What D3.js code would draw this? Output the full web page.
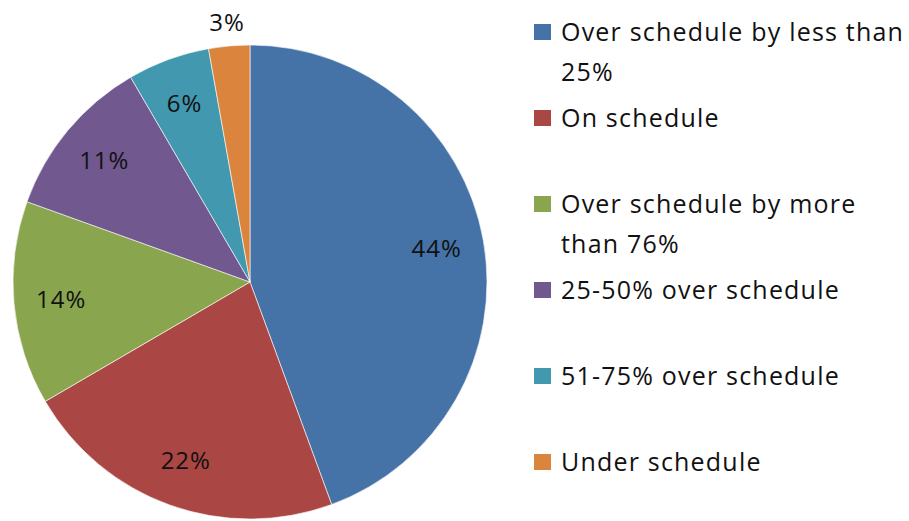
<!DOCTYPE html>
<html>
<head>
<meta charset="utf-8">
<script src="https://cdn.jsdelivr.net/npm/d3@7"></script>
<style>
  body { margin: 0; background: #fff; }
  text { font-family: "Open Sans", Lato, sans-serif; fill: #111; }
</style>
</head>
<body>
<div id="chart"></div>
<script>
const WIDTH = 909
const HEIGHT = 521

// slice shares (%)
const categories = [
    'Over schedule by less than 25%',
    'On schedule',
    'Over schedule by more than 76%',
    '25-50% over schedule',
    '51-75% over schedule',
    'Under schedule'
]
const shares = [44.4, 22.2, 13.9, 11.1, 5.6, 2.8]
const legendLines = [
    ['Over schedule by less than', '25%'],
    ['On schedule'],
    ['Over schedule by more', 'than 76%'],
    ['25-50% over schedule'],
    ['51-75% over schedule'],
    ['Under schedule']
]
const colors = ['#4572A7', '#AA4643', '#89A54E', '#71588F', '#4198AF', '#DB843D']

const data = categories.map((c, i) => ({ name: c, value: shares[i] }))

const svg = d3.select('#chart')
    .append('svg')
    .attr('width', WIDTH)
    .attr('height', HEIGHT)

const cx = 250, cy = 282, R = 237

const colour = d3.scaleOrdinal().domain(categories).range(colors)

const pie = d3.pie().value(d => d.value).sort(null)
const arcs = pie(data)
const pct = d3.format('.0%')

const arc = d3.arc().innerRadius(0).outerRadius(R)
const labelArc = d3.arc().innerRadius(R * 0.8).outerRadius(R * 0.8)
const outerArc = d3.arc().innerRadius(R * 1.1).outerRadius(R * 1.1)

const g = svg.append('g').attr('transform', `translate(${cx}, ${cy})`)

g.selectAll('path')
    .data(arcs)
    .join('path')
    .attr('d', arc)
    .attr('fill', d => colour(d.data.name))
    .attr('stroke', '#fff')
    .attr('stroke-width', 0.6)

g.selectAll('.lbl')
    .data(arcs)
    .join('text')
    .attr('class', 'lbl')
    .attr('transform', d => `translate(${(d.data.value < 4 ? outerArc : labelArc).centroid(d)})`)
    .attr('text-anchor', 'middle')
    .attr('dy', '0.35em')
    .style('font-size', '24px')
    .style('letter-spacing', '1px')
    .text(d => pct(Math.round(d.data.value) / 100))

// legend
const legendY = d3.scalePoint().domain(categories).range([32, 462])

const legend = svg.append('g')
    .selectAll('g')
    .data(categories)
    .join('g')
    .attr('transform', d => `translate(534, ${legendY(d)})`)

legend.append('rect')
    .attr('x', 0)
    .attr('y', -8)
    .attr('width', 17)
    .attr('height', 16)
    .attr('fill', d => colour(d))

legend.append('text')
    .style('font-size', '25px')
    .style('letter-spacing', '1.2px')
    .selectAll('tspan')
    .data((d, i) => legendLines[i])
    .join('tspan')
    .attr('x', 27)
    .attr('dy', (d, i) => i === 0 ? '0.35em' : '1.6em')
    .text(d => d)
</script>
</body>
</html>
